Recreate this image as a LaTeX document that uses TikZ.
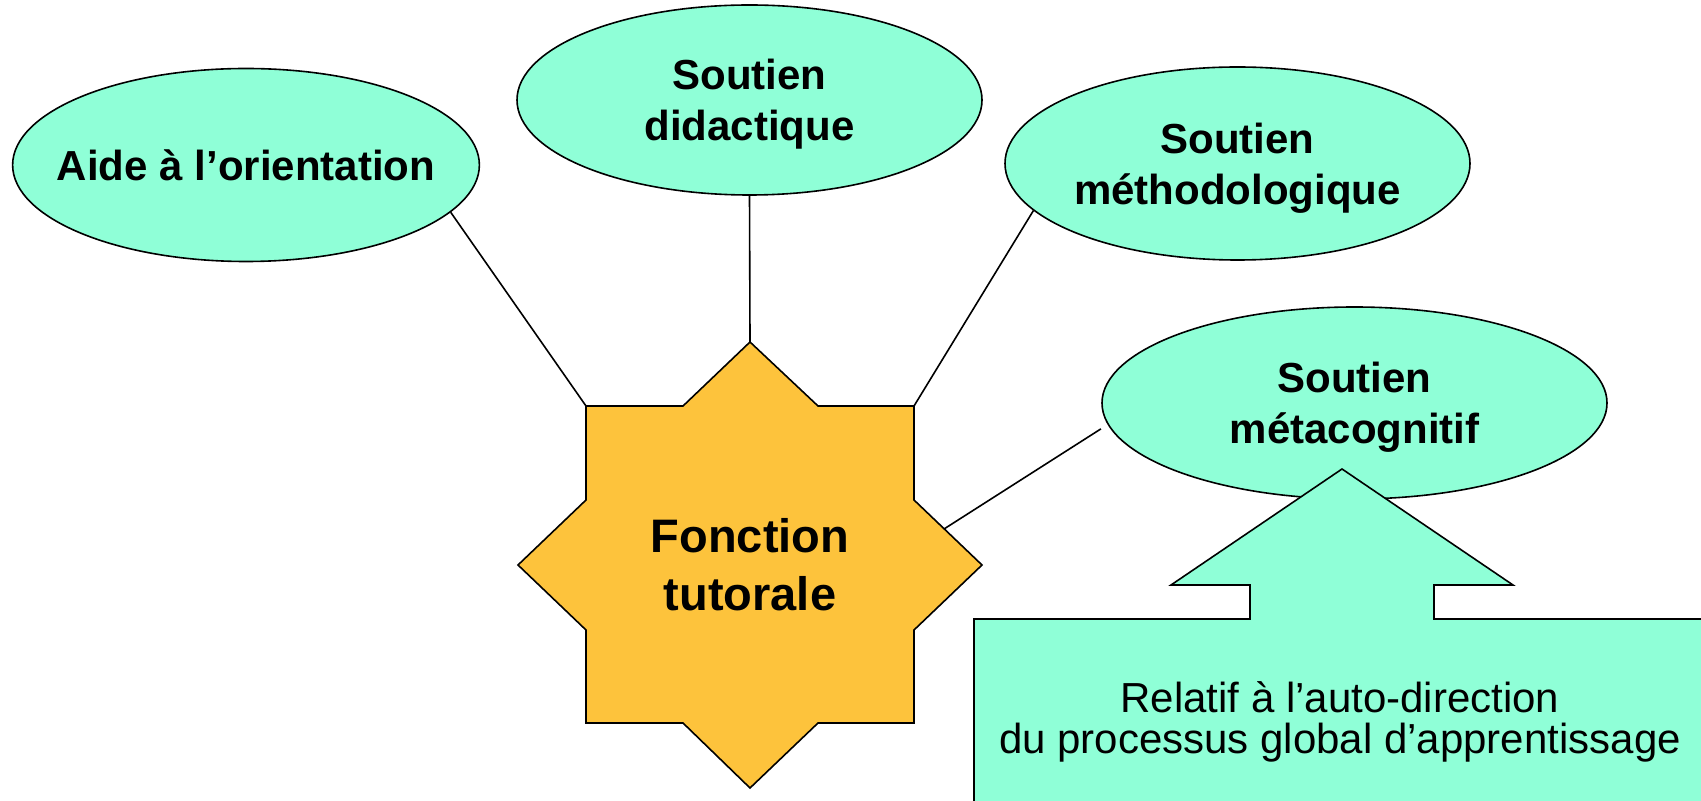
\documentclass[tikz,border=0pt]{standalone}
\usepackage{fontspec}
\setmainfont{Liberation Sans}
\usetikzlibrary{shapes}
\definecolor{mint}{RGB}{143,255,215}
\definecolor{sun}{RGB}{253,195,60}

\begin{document}
\begin{tikzpicture}[x=0.5pt,y=-0.5pt,
    bubble/.style={ellipse,draw,fill=mint,line width=0.8pt,inner sep=0pt,align=center,text depth=0pt,
                   font=\fontsize{21}{25.5}\selectfont\bfseries},
    link/.style={line width=0.8pt}]

    \useasboundingbox (0,0) rectangle (1701,801);
    \clip (0,0) rectangle (1701,801);

    % star in the middle
    \draw[fill=sun,line width=0.8pt] (750,342) -- (818,406) -- (914,406) -- (914,500) -- (982,565)
        -- (914,630) -- (914,723) -- (818,723) -- (750,788) -- (683,723) -- (586,723) -- (586,630)
        -- (518,565) -- (586,500) -- (586,406) -- (683,406) -- cycle;
    \node[align=center,font=\fontsize{23.5}{29}\selectfont\bfseries] (tut) at (750,565) {Fonction\\tutorale};
    \coordinate (tutN)  at (750,342);
    \coordinate (tutNW) at (586,406);
    \coordinate (tutNE) at (914,406);
    \coordinate (tutE)  at (944,529);

    \node[bubble,inner xsep=-12pt,minimum width=233pt,minimum height=96.5pt] (aide) at (246,165) {Aide à l’orientation};
    \node[bubble,minimum width=232.5pt,minimum height=95pt]   (dida)  at (749.5,100)  {Soutien\\didactique};
    \node[bubble,minimum width=232.5pt,minimum height=96.5pt] (metho) at (1237.5,163.5) {Soutien\\méthodologique};
    \node[bubble,minimum width=252.5pt,minimum height=96pt]   (meta)  at (1354.5,403) {Soutien\\métacognitif};

    \path[link] (aide.-13)   edge (tutNW)
                (dida.south) edge (tutN)
                (metho.193)  edge (tutNE)
                (meta.185)   edge [shorten <=4pt] (tutE);

    % callout under the last bubble
    \draw[fill=mint,line width=0.8pt] (974,619) -- (1250,619) -- (1250,585) -- (1171,585) -- (1342,469)
        -- (1513,585) -- (1434,585) -- (1434,619) -- (1710,619) -- (1710,830) -- (974,830) -- cycle;
    \node[align=center,font=\fontsize{21}{20.8}\selectfont] (rel) at (1340,722)
        {Relatif à l’auto-direction\\du processus global d’apprentissage};
\end{tikzpicture}
\end{document}
